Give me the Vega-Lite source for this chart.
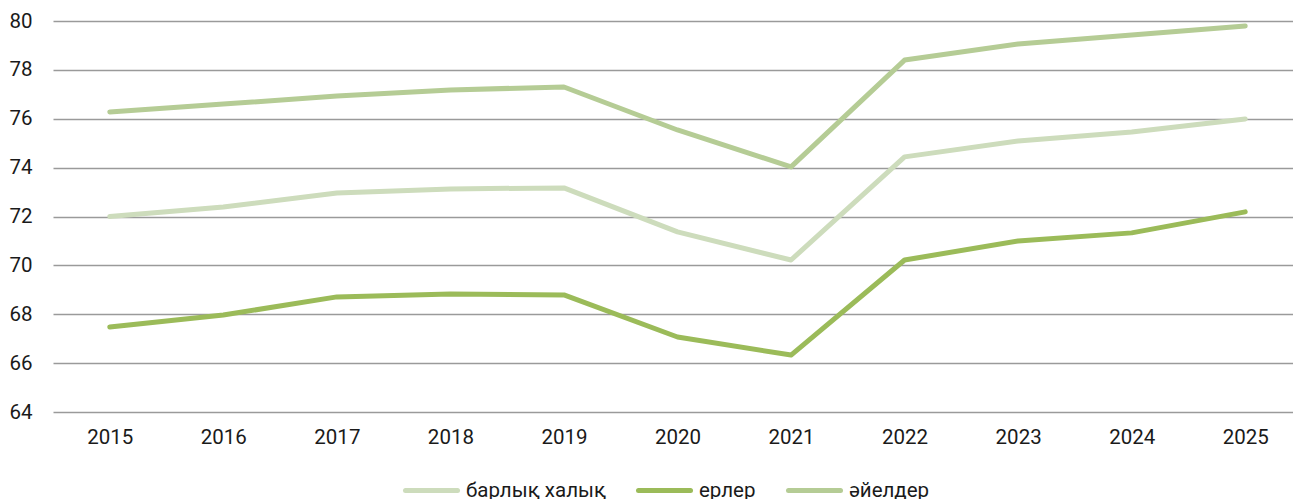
{
  "$schema": "https://vega.github.io/schema/vega-lite/v6.json",
  "autosize": "none",
  "width": 1249,
  "height": 391,
  "padding": {"left": 53, "top": 21, "right": 0, "bottom": 87},
  "background": "white",
  "config": {
    "view": {"stroke": null},
    "font": "Roboto",
    "axis": {"labelFont": "Roboto", "labelColor": "#1a1a1a", "labelFontSize": 20.5},
    "legend": {"labelFont": "Roboto"}
  },
  "data": {
    "values": [
      {"year": "2015", "series": "барлық халық", "value": 72.0},
      {"year": "2016", "series": "барлық халық", "value": 72.39},
      {"year": "2017", "series": "барлық халық", "value": 72.96},
      {"year": "2018", "series": "барлық халық", "value": 73.13},
      {"year": "2019", "series": "барлық халық", "value": 73.17},
      {"year": "2020", "series": "барлық халық", "value": 71.37},
      {"year": "2021", "series": "барлық халық", "value": 70.22},
      {"year": "2022", "series": "барлық халық", "value": 74.44},
      {"year": "2023", "series": "барлық халық", "value": 75.09},
      {"year": "2024", "series": "барлық халық", "value": 75.46},
      {"year": "2025", "series": "барлық халық", "value": 75.99},
      {"year": "2015", "series": "ерлер", "value": 67.48},
      {"year": "2016", "series": "ерлер", "value": 67.97},
      {"year": "2017", "series": "ерлер", "value": 68.71},
      {"year": "2018", "series": "ерлер", "value": 68.83},
      {"year": "2019", "series": "ерлер", "value": 68.79},
      {"year": "2020", "series": "ерлер", "value": 67.07},
      {"year": "2021", "series": "ерлер", "value": 66.33},
      {"year": "2022", "series": "ерлер", "value": 70.22},
      {"year": "2023", "series": "ерлер", "value": 71.0},
      {"year": "2024", "series": "ерлер", "value": 71.33},
      {"year": "2025", "series": "ерлер", "value": 72.19},
      {"year": "2015", "series": "әйелдер", "value": 76.28},
      {"year": "2016", "series": "әйелдер", "value": 76.6},
      {"year": "2017", "series": "әйелдер", "value": 76.93},
      {"year": "2018", "series": "әйелдер", "value": 77.18},
      {"year": "2019", "series": "әйелдер", "value": 77.3},
      {"year": "2020", "series": "әйелдер", "value": 75.54},
      {"year": "2021", "series": "әйелдер", "value": 74.03},
      {"year": "2022", "series": "әйелдер", "value": 78.4},
      {"year": "2023", "series": "әйелдер", "value": 79.06},
      {"year": "2024", "series": "әйелдер", "value": 79.43},
      {"year": "2025", "series": "әйелдер", "value": 79.8}
    ]
  },
  "mark": {"type": "line", "strokeWidth": 5, "strokeCap": "round", "strokeJoin": "round"},
  "encoding": {
    "x": {
      "field": "year", "type": "ordinal", "title": null,
      "scale": {"type": "point", "padding": 0.5},
      "axis": {"labelAngle": 0, "ticks": false, "domain": false, "grid": false, "labelPadding": 15, "labelFont": "Roboto", "labelFontSize": 20.5}
    },
    "y": {
      "field": "value", "type": "quantitative", "title": null,
      "scale": {"domain": [64, 80], "nice": false, "zero": false},
      "axis": {"values": [64, 66, 68, 70, 72, 74, 76, 78, 80], "ticks": false, "domain": false, "grid": true, "gridColor": "#9a9a9a", "gridWidth": 1.5, "gridOpacity": 1, "labelPadding": 21, "labelFont": "Roboto", "labelFontSize": 20.5}
    },
    "color": {
      "field": "series", "type": "nominal", "title": null,
      "scale": {"domain": ["барлық халық", "ерлер", "әйелдер"], "range": ["#cddcbc", "#9bbb59", "#b5cc95"]},
      "legend": {
        "orient": "none", "direction": "horizontal", "legendX": 350, "legendY": 441,
        "gridAlign": "none",
        "symbolType": "stroke", "symbolSize": 2704, "symbolStrokeWidth": 5,
        "labelFont": "Roboto", "labelFontSize": 20.5, "labelColor": "#1a1a1a",
        "labelOffset": 6, "columnPadding": 22,
        "encode": {"symbols": {"update": {"strokeCap": {"value": "round"}}}}
      }
    }
  }
}
